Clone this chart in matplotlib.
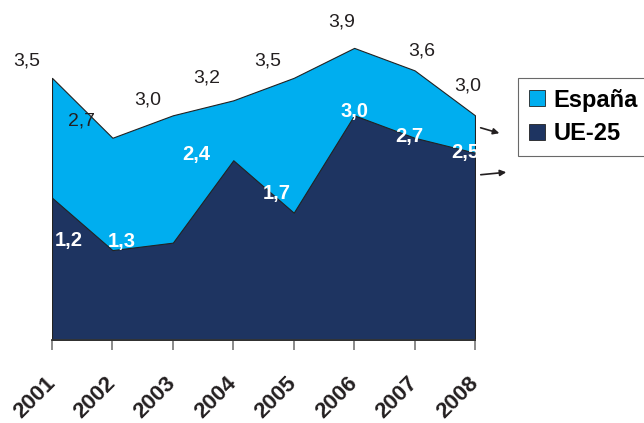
import numpy as np
import matplotlib.pyplot as plt

plt.rcParams['font.family'] = ['Liberation Sans', 'DejaVu Sans']

# data
years = [2001, 2002, 2003, 2004, 2005, 2006, 2007, 2008]
espana = [3.5, 2.7, 3.0, 3.2, 3.5, 3.9, 3.6, 3.0]
ue25 = [1.9, 1.2, 1.3, 2.4, 1.7, 3.0, 2.7, 2.5]
espana_labels = ['3,5', '2,7', '3,0', '3,2', '3,5', '3,9', '3,6', '3,0']
ue25_labels = ['1,2', '1,3', '', '2,4', '1,7', '3,0', '2,7', '2,5']

# label offsets in points (dx, dy) relative to each data point
esp_off = [(-18, 12), (-22, 12), (-18, 11), (-19, 16), (-19, 12), (-9, 19), (5, 14), (-5, 21)]
ue_off = [(12, -31), (7, 6), (0, 0), (-27, 4), (-12, 14), (0, 3), (-4, 1), (-7, 0)]

c_esp = '#00AEEF'
c_ue = '#1E3461'

fig = plt.figure(figsize=(6.44, 4.23), dpi=100)
ax = fig.add_axes([52 / 644, 83 / 423, 423 / 644, 340 / 423])

ax.fill_between(years, espana, color=c_esp, edgecolor='#222222', linewidth=0.8, label='España', zorder=1)
ax.fill_between(years, ue25, color=c_ue, edgecolor='#222222', linewidth=0.8, label='UE-25', zorder=2)

for x, y, t, (dx, dy) in zip(years, espana, espana_labels, esp_off):
    ax.annotate(t, (x, y), xytext=(dx, dy), textcoords='offset points',
                ha='center', va='center', fontsize=14, color='#231F20', zorder=5)
for x, y, t, (dx, dy) in zip(years, ue25, ue25_labels, ue_off):
    if t:
        ax.annotate(t, (x, y), xytext=(dx, dy), textcoords='offset points',
                    ha='center', va='center', fontsize=14.5, fontweight='bold',
                    color='white', zorder=5)

ax.set_xlim(2001, 2008)
ax.set_ylim(0, 340 / 74.9)
ax.set_xticks(years)
ax.set_xticklabels([str(y) for y in years], rotation=45, ha='right', va='center',
                   rotation_mode='anchor', fontsize=16, fontweight='bold', color='#231F20')
ax.tick_params(axis='x', length=7, width=1.2, color='#777777', pad=22)
ax.set_yticks([])
for s in ['top', 'right', 'left']:
    ax.spines[s].set_visible(False)
ax.spines['bottom'].set_color('#333333')
ax.spines['bottom'].set_linewidth(1.3)
ax.patch.set_alpha(0)

leg = fig.legend(loc='upper left', bbox_to_anchor=(518 / 644, 1 - 78 / 423), borderaxespad=0,
                 prop={'weight': 'bold', 'size': 17}, frameon=True, fancybox=False,
                 handlelength=0.68, handleheight=0.68, handletextpad=0.38,
                 borderpad=0.45, labelspacing=0.45, edgecolor='#444444')
leg.get_frame().set_linewidth(0.8)
for h in leg.legend_handles:
    h.set_edgecolor('#222222')
    h.set_linewidth(0.6)

# small arrows beside the legend
fig.add_artist(plt.Annotation('', xy=(502 / 644, 1 - 134 / 423), xytext=(478 / 644, 1 - 127 / 423),
                              xycoords='figure fraction', textcoords='figure fraction',
                              arrowprops=dict(arrowstyle='-|>', color='#231F20', lw=1.2, mutation_scale=9)))
fig.add_artist(plt.Annotation('', xy=(509 / 644, 1 - 172 / 423), xytext=(478 / 644, 1 - 175 / 423),
                              xycoords='figure fraction', textcoords='figure fraction',
                              arrowprops=dict(arrowstyle='-|>', color='#231F20', lw=1.2, mutation_scale=9)))

fig.savefig('out.png', dpi=100)
